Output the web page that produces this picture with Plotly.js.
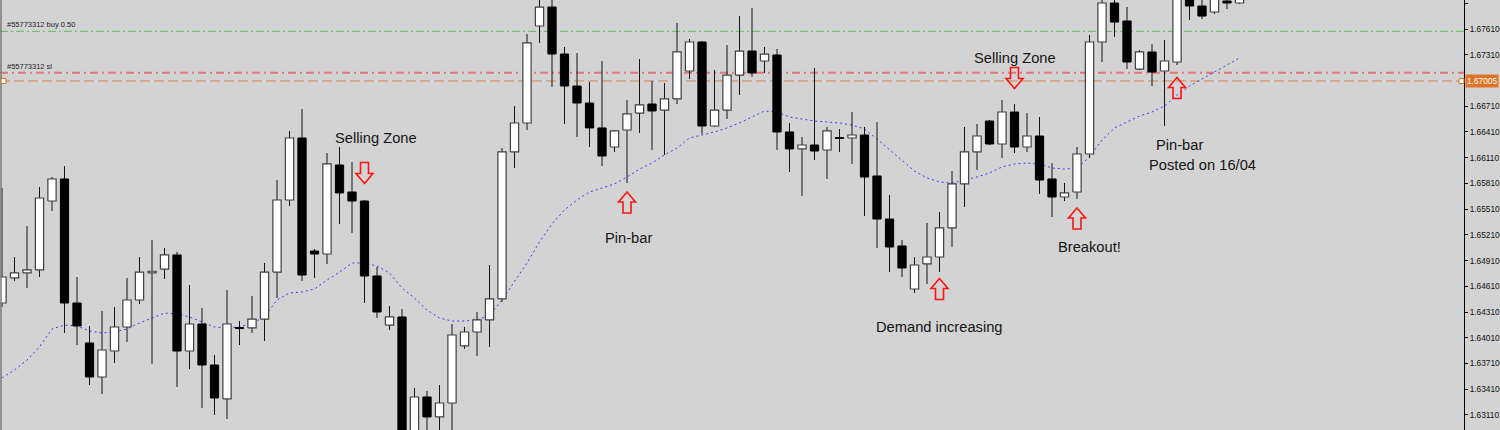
<!DOCTYPE html>
<html><head><meta charset="utf-8">
<script src="https://cdn.plot.ly/plotly-3.0.1.min.js"></script>
<style>html,body{margin:0;padding:0;background:#d3d3d3;} #chart{width:1500px;height:430px;}</style>
</head><body><div id="chart"></div>
<script>
// ---- OHLC data (one candle per bar index) ----
const openP = [
1.64416,1.64708,1.64766,1.64801,1.65605,1.65862,1.64416,1.63950,1.63553,1.63856,
1.64136,1.64451,1.64768,1.64812,1.64976,1.63856,1.64171,1.63693,1.63297,1.64130,
1.64125,1.64229,1.64777,1.65617,1.66340,1.65022,1.64987,1.66025,1.65710,1.65605,
1.64731,1.64159,1.64253,1.62889,1.63320,1.63087,1.63250,1.63915,1.64078,1.64218,
1.64463,1.66177,1.66515,1.67646,1.67867,1.67319,1.66946,1.66748,1.66457,1.66235,
1.66433,1.66631,1.66736,1.66666,1.66795,1.67121,1.67459,1.66480,1.66666,1.67074,
1.67354,1.67238,1.67308,1.66410,1.66212,1.66258,1.66200,1.66346,1.66340,1.66375,
1.65897,1.65395,1.65081,1.64579,1.64871,1.64952,1.65291,1.65804,1.66177,1.66538,
1.66270,1.66643,1.66235,1.66363,1.65862,1.65652,1.65710,1.66153,1.67459,1.67914,
1.67704,1.67144,1.67343,1.67121,1.67226,1.67984,1.67879,1.67809,1.67937,1.67914];
const highP = [
1.65757,1.64952,1.65314,1.65769,1.65885,1.66013,1.64719,1.64148,1.64323,1.64369,
1.64708,1.64952,1.65151,1.65057,1.65011,1.64626,1.64358,1.63810,1.64568,1.64206,
1.64498,1.64882,1.65850,1.66422,1.66678,1.65046,1.66165,1.66235,1.66060,1.65617,
1.64836,1.64381,1.64346,1.63425,1.63390,1.63460,1.64171,1.64136,1.64311,1.64859,
1.66223,1.66713,1.67553,1.67972,1.67972,1.67401,1.67331,1.66993,1.67238,1.66433,
1.66783,1.67261,1.67005,1.66981,1.67681,1.67494,1.67471,1.67133,1.67424,1.67762,
1.67856,1.67401,1.67378,1.66515,1.66352,1.67156,1.66468,1.66445,1.66643,1.66468,
1.66526,1.65675,1.65151,1.64952,1.65349,1.65477,1.65955,1.66468,1.66503,1.66550,
1.66783,1.66736,1.66631,1.66585,1.66048,1.65815,1.66235,1.67541,1.67984,1.67984,
1.67867,1.67366,1.67436,1.67483,1.68042,1.68019,1.67972,1.67984,1.67961,1.67984];
const lowP = [
1.64369,1.64673,1.64591,1.64719,1.65489,1.64066,1.63926,1.63460,1.63355,1.63716,
1.63961,1.64404,1.63705,1.64696,1.63437,1.63646,1.63192,1.63110,1.63063,1.63926,
1.64066,1.63973,1.64474,1.65547,1.64673,1.64708,1.64871,1.65337,1.65232,1.64416,
1.64241,1.64101,1.62842,1.62819,1.62912,1.62912,1.62912,1.63880,1.63798,1.63903,
1.64428,1.65990,1.66433,1.67448,1.66935,1.66503,1.66352,1.66235,1.66013,1.66177,
1.65815,1.66398,1.66200,1.66142,1.66736,1.67028,1.66387,1.66468,1.66561,1.66841,
1.67051,1.67098,1.66200,1.65943,1.65664,1.66083,1.65862,1.66177,1.66037,1.65430,
1.65057,1.64777,1.64719,1.64533,1.64638,1.64777,1.65069,1.65535,1.65967,1.66258,
1.66107,1.66165,1.66177,1.65687,1.65419,1.65605,1.65629,1.66107,1.67226,1.67518,
1.67144,1.67133,1.66946,1.66480,1.67191,1.67716,1.67727,1.67786,1.67844,1.67902];
const closeP = [
1.64719,1.64766,1.64801,1.65640,1.65862,1.64416,1.64148,1.63553,1.63868,1.64136,
1.64451,1.64777,1.64786,1.64976,1.63856,1.64171,1.63693,1.63308,1.64171,1.64118,
1.64229,1.64777,1.65617,1.66340,1.64742,1.64987,1.66037,1.65699,1.65605,1.64731,
1.64311,1.64253,1.62912,1.63320,1.63087,1.63250,1.64043,1.64078,1.64218,1.64463,
1.66177,1.66515,1.67448,1.67867,1.67319,1.66946,1.66748,1.66457,1.66130,1.66422,
1.66620,1.66725,1.66655,1.66795,1.67343,1.67459,1.66480,1.66666,1.67074,1.67354,
1.67098,1.67319,1.66410,1.66212,1.66258,1.66188,1.66422,1.66334,1.66375,1.65885,
1.65395,1.65069,1.64824,1.64859,1.64952,1.65291,1.65804,1.66177,1.66363,1.66270,
1.66643,1.66235,1.66363,1.65850,1.65652,1.65699,1.66153,1.67459,1.67914,1.67692,
1.67226,1.67343,1.67109,1.67238,1.68007,1.67879,1.67762,1.67961,1.67914,1.67961];
// moving average (blue dotted)
const maP = [
1.63542,1.63635,1.63751,1.63903,1.64113,1.64159,1.64148,1.64090,1.64066,1.64078,
1.64113,1.64183,1.64241,1.64299,1.64288,1.64253,1.64194,1.64136,1.64125,1.64136,
1.64183,1.64253,1.64451,1.64533,1.64544,1.64579,1.64684,1.64777,1.64882,1.64882,
1.64847,1.64766,1.64591,1.64474,1.64334,1.64241,1.64206,1.64206,1.64218,1.64276,
1.64451,1.64661,1.64882,1.65127,1.65337,1.65500,1.65617,1.65710,1.65757,1.65804,
1.65885,1.65978,1.66048,1.66142,1.66223,1.66340,1.66375,1.66410,1.66457,1.66515,
1.66585,1.66655,1.66643,1.66585,1.66561,1.66538,1.66526,1.66515,1.66491,1.66445,
1.66328,1.66200,1.66083,1.65955,1.65874,1.65827,1.65815,1.65850,1.65885,1.65932,
1.66002,1.66037,1.66048,1.66037,1.65990,1.65978,1.65990,1.66118,1.66317,1.66457,
1.66526,1.66596,1.66643,1.66713,1.66841,1.66946,1.67028,1.67109,1.67191,1.67273];

// order / price levels
const levelPrices = [1.67584, 1.67101, 1.67005];
const levelLabels = ['#55773312 buy 0.50', '#55773312 sl', ''];
const currentPrice = 1.67005;

// axis ticks
const tickVals = [1.63110,1.63410,1.63710,1.64010,1.64310,1.64610,1.64910,1.65210,1.65510,1.65810,1.66110,1.66410,1.66710,1.67310,1.67610,1.67910];
const tickText = tickVals.map(v => v.toFixed(5));

// annotations
const noteText  = ['Selling Zone','Pin-bar','Demand increasing','Selling Zone','Breakout!','Pin-bar','Posted on 16/04'];
const noteIdx   = [29.9, 50.1, 75.0, 81.0, 87.0, 94.2, 96.0];
const notePrice = [1.66340, 1.65174, 1.64136, 1.67273, 1.65069, 1.66258, 1.66025];

// hollow red arrows
const arrowIdx   = [29, 50, 75, 81, 86, 94];
const arrowPrice = [1.65932, 1.65588, 1.64579, 1.67040, 1.65401, 1.66923];
const arrowDir   = ['down','up','up','down','up','up'];

// ---- build traces ----
const N = openP.length;
const halfW = 0.33;
function bodies(isBull) {
  const xs = [], ys = [];
  for (let i = 0; i < N; i++) {
    const bull = closeP[i] >= openP[i];
    if (bull !== isBull) continue;
    const lo = Math.min(openP[i], closeP[i]), hi = Math.max(openP[i], closeP[i]);
    xs.push(i - halfW, i + halfW, i + halfW, i - halfW, i - halfW, null);
    ys.push(lo, lo, hi, hi, lo, null);
  }
  return {xs, ys};
}
const wx = [], wy = [];
for (let i = 0; i < N; i++) {
  const top = Math.max(openP[i], closeP[i]), bot = Math.min(openP[i], closeP[i]);
  if (highP[i] > top) { wx.push(i, i, null); wy.push(top, highP[i], null); }
  if (lowP[i] < bot) { wx.push(i, i, null); wy.push(bot, lowP[i], null); }
}
const bull = bodies(true), bear = bodies(false);

const traces = [
  {type:'scatter', mode:'lines', x: maP.map((_, i) => i), y: maP,
   line:{color:'rgb(60,60,255)', width:1, dash:'2px,3px'}, hoverinfo:'skip'},
  {type:'scatter', mode:'lines', x: wx, y: wy, connectgaps:false,
   line:{color:'#151515', width:1}, hoverinfo:'skip'},
  {type:'scatter', mode:'lines', x: bear.xs, y: bear.ys, fill:'toself', fillcolor:'#000000',
   line:{color:'#000000', width:1}, connectgaps:false, hoverinfo:'skip'},
  {type:'scatter', mode:'lines', x: bull.xs, y: bull.ys, fill:'toself', fillcolor:'#ffffff',
   line:{color:'#404040', width:1.2}, connectgaps:false, hoverinfo:'skip'}
];

// ---- shapes ----
const levelStyles = [
  {color:'rgb(90,190,90)', width:1, dash:'8px,3px,2px,3px'},
  {color:'rgb(228,118,118)', width:2, dash:'8px,4px,2px,4px'},
  {color:'rgb(214,132,82)', width:1, dash:'10px,4px'}
];
const shapes = [];
levelPrices.forEach((p, k) => {
  shapes.push({type:'line', xref:'paper', yref:'y', x0:0, x1:1, y0:p, y1:p, line:levelStyles[k], layer:'below'});
});
// left border
shapes.push({type:'line', xref:'paper', yref:'paper', x0:1, x1:1, y0:0, y1:1,
  xsizemode:'pixel', xanchor:0, line:{color:'#7a7a7a', width:1.5}});
// small squares on current price line
[[0, 1, 6], [1, -5, 0]].forEach(([anc, a, b]) => {
  shapes.push({type:'rect', xref:'paper', yref:'y', xsizemode:'pixel', ysizemode:'pixel',
    xanchor:anc, yanchor:currentPrice, x0:a, x1:b, y0:-2.5, y1:2.5,
    line:{color:'rgb(214,112,40)', width:1}, fillcolor:'#ffffff'});
});
// arrows
const upPath = 'M0,10.5 L8.5,0.5 L4,0.5 L4,-10.5 L-4,-10.5 L-4,0.5 L-8.5,0.5 Z';
const downPath = 'M0,-10.5 L8.5,-0.5 L4,-0.5 L4,10.5 L-4,10.5 L-4,-0.5 L-8.5,-0.5 Z';
arrowIdx.forEach((xi, k) => {
  shapes.push({type:'path', xref:'x', yref:'y', xsizemode:'pixel', ysizemode:'pixel',
    xanchor: xi, yanchor: arrowPrice[k],
    path: arrowDir[k] === 'up' ? upPath : downPath,
    line:{color:'rgb(255,20,20)', width:1.6}, fillcolor:'rgba(0,0,0,0)'});
});

// ---- annotations ----
const annotations = [];
noteText.forEach((t, k) => {
  annotations.push({x: noteIdx[k], y: notePrice[k], xref:'x', yref:'y', text: t, showarrow:false,
    xanchor:'center', yanchor:'middle',
    font:{family:'Liberation Sans, Arial, sans-serif', size:14.7, color:'#151515'}});
});
levelLabels.forEach((t, k) => {
  if (!t) return;
  annotations.push({x:0, xref:'paper', xanchor:'left', xshift:5, y: levelPrices[k], yref:'y', yanchor:'bottom',
    text:t, showarrow:false, font:{family:'Liberation Sans, Arial, sans-serif', size:7.5, color:'#222'}});
});
annotations.push({x:1, xref:'paper', xanchor:'left', xshift:1, y: currentPrice, yref:'y', yanchor:'middle',
  text: currentPrice.toFixed(5), showarrow:false, bgcolor:'rgb(222,116,40)', borderpad:1,
  font:{family:'Liberation Sans, Arial, sans-serif', size:8.3, color:'#ffffff'}});

const layout = {
  width:1500, height:430, margin:{l:0, r:36, t:0, b:0},
  paper_bgcolor:'#d3d3d3', plot_bgcolor:'#d3d3d3',
  showlegend:false, hovermode:false,
  xaxis:{range:[-0.16, 116.96], visible:false, fixedrange:true},
  yaxis:{range:[1.62935, 1.67949], side:'right', tickmode:'array', tickvals:tickVals, ticktext:tickText,
    ticks:'outside', ticklen:3, tickcolor:'#000', tickwidth:1, showline:true, linecolor:'#000', linewidth:1,
    showgrid:false, zeroline:false, fixedrange:true,
    tickfont:{family:'Liberation Sans, Arial, sans-serif', size:8.3, color:'#111'}},
  shapes: shapes, annotations: annotations
};
Plotly.newPlot('chart', traces, layout, {displayModeBar:false, staticPlot:true});
</script>
</body></html>
